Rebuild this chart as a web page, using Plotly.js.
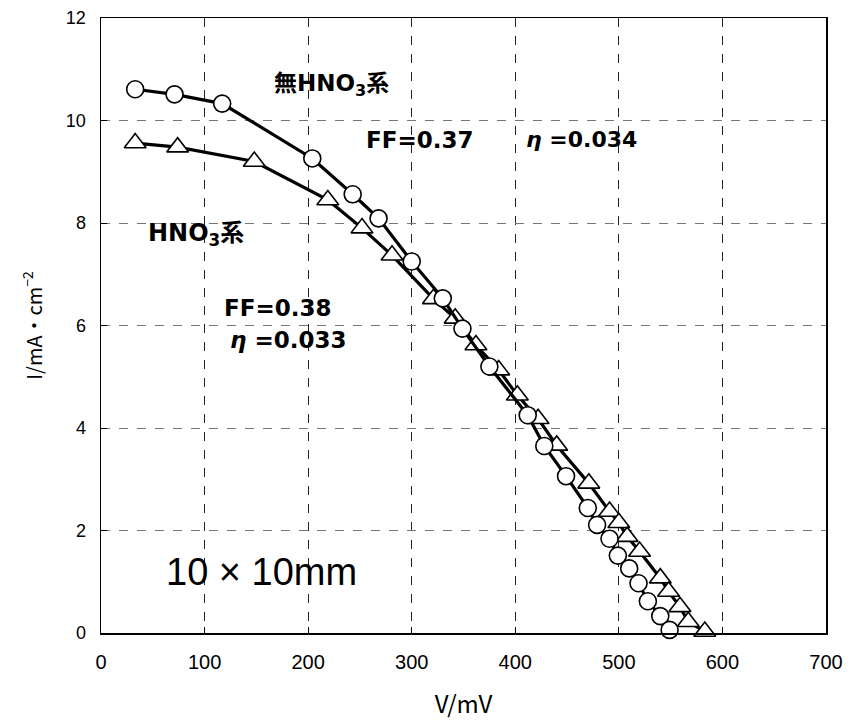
<!DOCTYPE html>
<html>
<head>
<meta charset="utf-8">
<script src="https://cdn.plot.ly/plotly-3.0.1.min.js"></script>
<style>html,body{margin:0;padding:0;background:#fff;}#chart{width:849px;height:727px;}</style>
</head>
<body>
<div id="chart"></div>
<script>
// 無HNO3系 (circles)
const noHNO3_V = [33, 71, 117, 204, 243, 268, 300, 330, 349, 375, 412, 428, 449, 470, 479, 491, 499, 510, 519, 528, 540, 549];
const noHNO3_I = [10.61, 10.51, 10.33, 9.26, 8.56, 8.09, 7.25, 6.53, 5.94, 5.20, 4.25, 3.65, 3.06, 2.44, 2.11, 1.84, 1.51, 1.26, 0.97, 0.62, 0.33, 0.06];
// HNO3系 (triangles)
const HNO3_V = [33, 74, 148, 219, 252, 281, 321, 342, 362, 384, 402, 422, 440, 471, 491, 500, 508, 520, 540, 548, 559, 567, 583];
const HNO3_I = [9.56, 9.48, 9.20, 8.45, 7.90, 7.37, 6.52, 6.14, 5.62, 5.13, 4.64, 4.18, 3.66, 2.92, 2.37, 2.15, 1.88, 1.59, 1.07, 0.81, 0.51, 0.22, 0.03];

const xTicks = [0, 100, 200, 300, 400, 500, 600, 700];
const yTicks = [0, 2, 4, 6, 8, 10, 12];

const traces = [
  {
    x: HNO3_V, y: HNO3_I, type: 'scatter', mode: 'lines+markers', name: 'HNO3系',
    line: {color: '#000', width: 3.2},
    marker: {symbol: 'triangle-up', size: 19, color: '#fff', line: {color: '#000', width: 1.6}},
    cliponaxis: false
  },
  {
    x: noHNO3_V, y: noHNO3_I, type: 'scatter', mode: 'lines+markers', name: '無HNO3系',
    line: {color: '#000', width: 3.2},
    marker: {symbol: 'circle', size: 17, color: '#fff', line: {color: '#000', width: 1.6}},
    cliponaxis: false
  }
];

const bold = {family: 'DejaVu Sans, Noto Sans CJK JP, sans-serif', size: 23, color: '#000', weight: 'bold'};

const layout = {
  width: 849, height: 727,
  margin: {l: 101, r: 23, t: 18, b: 94},
  paper_bgcolor: '#fff', plot_bgcolor: '#fff',
  showlegend: false,
  xaxis: {
    range: [0, 700], tickvals: xTicks, ticktext: xTicks.map(String),
    showline: true, linecolor: '#000', linewidth: 1.5, mirror: true,
    ticks: 'inside', ticklen: 6, tickcolor: '#000',
    showgrid: true, gridcolor: '#222', gridwidth: 1, griddash: 'dash',
    zeroline: false, ticklabelstandoff: 10,
    tickfont: {family: 'Liberation Sans, Arial, sans-serif', size: 20, color: '#000'},
    title: {text: 'V/mV', font: {family: 'Noto Sans CJK JP, sans-serif', size: 24, color: '#000'}, standoff: 24}
  },
  yaxis: {
    range: [0, 12], tickvals: yTicks, ticktext: yTicks.map(String),
    showline: true, linecolor: '#000', linewidth: 1.5, mirror: true,
    ticks: 'inside', ticklen: 6, tickcolor: '#000',
    showgrid: true, gridcolor: '#777', gridwidth: 1, griddash: 'dash',
    zeroline: false, ticklabelstandoff: 10,
    tickfont: {family: 'Liberation Sans, Arial, sans-serif', size: 18, color: '#000'},
    title: {text: 'I/mA・cm<sup>−2</sup>', font: {family: 'Noto Sans CJK JP, sans-serif', size: 20, color: '#000'}, standoff: 18}
  },
  annotations: [
    {x: 165, y: 10.69, xref: 'x', yref: 'y', xanchor: 'left', text: '無HNO<sub>3</sub>系', showarrow: false, font: bold},
    {x: 254, y: 9.62, xref: 'x', yref: 'y', xanchor: 'left', text: 'FF=0.37', showarrow: false, font: bold},
    {x: 408, y: 9.62, xref: 'x', yref: 'y', xanchor: 'left', text: '<i>η</i> =0.034', showarrow: false,
     font: {family: 'DejaVu Sans, Noto Sans CJK JP, sans-serif', size: 22, color: '#000', weight: 'bold'}},
    {x: 43, y: 7.77, xref: 'x', yref: 'y', xanchor: 'left', text: 'HNO<sub>3</sub>系', showarrow: false,
     font: {family: 'DejaVu Sans, Noto Sans CJK JP, sans-serif', size: 24, color: '#000', weight: 'bold'}},
    {x: 117, y: 6.34, xref: 'x', yref: 'y', xanchor: 'left', text: 'FF=0.38', showarrow: false, font: bold},
    {x: 123, y: 5.72, xref: 'x', yref: 'y', xanchor: 'left', text: '<i>η</i> =0.033', showarrow: false, font: bold},
    {x: 61, y: 1.19, xref: 'x', yref: 'y', xanchor: 'left', text: '10 × 10mm', showarrow: false,
     font: {family: 'Liberation Sans, Arial, sans-serif', size: 38, color: '#000'}}
  ]
};

Plotly.newPlot('chart', traces, layout, {displayModeBar: false, staticPlot: true});
</script>
</body>
</html>
